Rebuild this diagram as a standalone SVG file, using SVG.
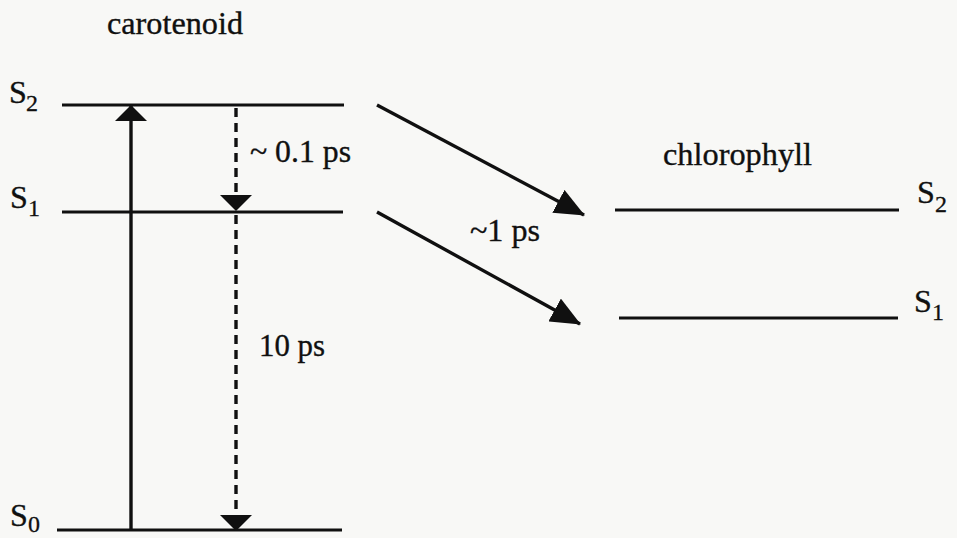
<svg xmlns="http://www.w3.org/2000/svg" width="957" height="538" viewBox="0 0 957 538">
  <style>
    .bg { fill: #f8f8f6; }
    .level { stroke: #101010; stroke-width: 3.2; fill: none; }
    .solid { stroke: #101010; stroke-width: 3.4; fill: none; }
    .dashed { stroke: #101010; stroke-width: 3.4; fill: none; stroke-dasharray: 9 6; }
    .txt { font-family: "Liberation Serif", "Times New Roman", serif; font-size: 32px; fill: #101010; stroke: #101010; stroke-width: 0.35; }
    .sub { font-family: "Liberation Serif", "Times New Roman", serif; font-size: 24px; fill: #101010; stroke: #101010; stroke-width: 0.3; }
  </style>
  <defs>
    <marker id="headFlat" viewBox="0 0 16 32" refX="15" refY="16" markerWidth="16" markerHeight="32" markerUnits="userSpaceOnUse" orient="auto">
      <path d="M0,0 L16,16 L0,32 z" fill="#101010"/>
    </marker>
    <marker id="headLong" viewBox="0 0 30 26" refX="29" refY="13" markerWidth="30" markerHeight="26" markerUnits="userSpaceOnUse" orient="auto">
      <path d="M0,0 L30,13 L0,26 z" fill="#101010"/>
    </marker>
  </defs>

  <rect class="bg" x="0" y="0" width="957" height="538"/>

  <!-- carotenoid energy levels -->
  <g id="carotenoid">
    <text class="txt" x="107" y="34" textLength="136" lengthAdjust="spacingAndGlyphs">carotenoid</text>
    <g id="car-S2">
      <line class="level" x1="62" y1="105" x2="344" y2="105"/>
      <text class="txt" x="9" y="103">S</text>
      <text class="sub" x="26" y="111">2</text>
    </g>
    <g id="car-S1">
      <line class="level" x1="62" y1="212" x2="343" y2="212"/>
      <text class="txt" x="10" y="208">S</text>
      <text class="sub" x="28" y="216">1</text>
    </g>
    <g id="car-S0">
      <line class="level" x1="57" y1="530" x2="342" y2="530"/>
      <text class="txt" x="10" y="526">S</text>
      <text class="sub" x="28" y="532">0</text>
    </g>
  </g>

  <!-- chlorophyll energy levels -->
  <g id="chlorophyll">
    <text class="txt" x="663" y="165" textLength="149" lengthAdjust="spacingAndGlyphs">chlorophyll</text>
    <g id="chl-S2">
      <line class="level" x1="615" y1="210" x2="899" y2="210"/>
      <text class="txt" x="917" y="203">S</text>
      <text class="sub" x="935" y="212">2</text>
    </g>
    <g id="chl-S1">
      <line class="level" x1="619" y1="318" x2="898" y2="318"/>
      <text class="txt" x="914" y="312">S</text>
      <text class="sub" x="932" y="320">1</text>
    </g>
  </g>

  <!-- transitions -->
  <g id="connectors">
    <line class="solid" x1="131" y1="530" x2="131" y2="106" marker-end="url(#headFlat)"/>
    <line class="dashed" x1="236" y1="108" x2="236" y2="210" marker-end="url(#headFlat)"/>
    <line class="dashed" x1="236" y1="215" x2="236" y2="530" marker-end="url(#headFlat)"/>
    <line class="solid" x1="377" y1="105" x2="584" y2="215" marker-end="url(#headLong)"/>
    <line class="solid" x1="377" y1="212" x2="580" y2="324" marker-end="url(#headLong)"/>
  </g>

  <!-- transition times -->
  <g id="labels">
    <text class="txt" x="250" y="162" textLength="101" lengthAdjust="spacingAndGlyphs">~ 0.1 ps</text>
    <text class="txt" x="259" y="356" textLength="66" lengthAdjust="spacingAndGlyphs">10 ps</text>
    <text class="txt" x="470" y="241" textLength="70" lengthAdjust="spacingAndGlyphs">~1 ps</text>
  </g>
</svg>
